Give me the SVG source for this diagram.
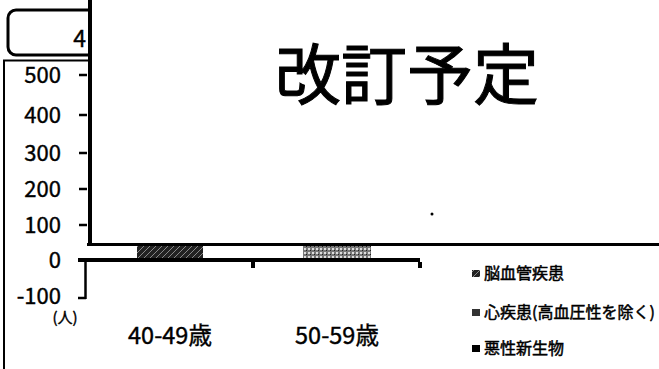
<svg xmlns="http://www.w3.org/2000/svg" width="659" height="369" viewBox="0 0 659 369">
<style>
text{font-family:"Noto Sans CJK JP","Noto Sans",sans-serif;fill:#000;stroke:#000;stroke-width:0.4}
.ax{font-size:22px;text-anchor:end}
.xl{font-size:23.5px;text-anchor:middle}
.lg{font-size:16px;stroke-width:0.5}
.ln{stroke:#000;fill:none}
</style>
<defs>
<pattern id="p1" width="6" height="6" patternUnits="userSpaceOnUse">
<rect width="6" height="6" fill="#222"/>
<path d="M0 6L6 0" stroke="#888" stroke-width="1"/>
</pattern>
<pattern id="p2" width="4" height="4" patternUnits="userSpaceOnUse">
<rect width="4" height="4" fill="#777"/>
<rect x="0" y="0" width="2" height="2" fill="#ddd"/>
<rect x="2" y="2" width="1" height="1" fill="#222"/>
</pattern>
</defs>
<rect width="659" height="369" fill="#fff"/>
<g id="frame">
<path class="ln" d="M90 55H16a8 8 0 0 1-8-8V18a8 8 0 0 1 8-8H90" stroke-width="3"/>
<path class="ln" d="M4 369V60.5H90" stroke-width="2"/>
<line class="ln" x1="90" y1="0" x2="90" y2="246" stroke-width="4"/>
<text x="86" y="47" font-size="23" text-anchor="end">4</text>
</g>
<g id="axis">
<line class="ln" x1="87" y1="244.5" x2="659" y2="244.5" stroke-width="3"/>
<line class="ln" x1="78" y1="260" x2="420" y2="260" stroke-width="4"/>
<line class="ln" x1="85.5" y1="258" x2="85.5" y2="299" stroke-width="2.5"/>
<path class="ln" stroke-width="2.5" d="M79 75H87M79 115H87M79 153H87M79 189H87M79 225H87M78 298H86"/>
<path class="ln" stroke-width="4" d="M253 262V268M420 262V268"/>
<text class="ax" x="61" y="83">500</text>
<text class="ax" x="61" y="123">400</text>
<text class="ax" x="61" y="161">300</text>
<text class="ax" x="61" y="197">200</text>
<text class="ax" x="61" y="233">100</text>
<text class="ax" x="61" y="268">0</text>
<text class="ax" x="61" y="304">-100</text>
<text x="65" y="323" font-size="15" text-anchor="middle">(人)</text>
</g>
<g id="bars">
<rect x="137" y="246" width="66" height="12" fill="url(#p1)"/>
<rect x="303" y="246" width="68" height="12" fill="url(#p2)"/>
</g>
<g id="labels">
<text class="xl" x="170" y="344">40-49歳</text>
<text class="xl" x="337" y="344">50-59歳</text>
<text x="407" y="99" font-size="66" text-anchor="middle" style="stroke-width:1">改訂予定</text>
<circle cx="432" cy="214" r="1.5" fill="#000"/>
</g>
<g id="legend">
<rect x="472" y="270" width="8" height="7" fill="url(#p1)"/>
<text class="lg" x="484" y="279">脳血管疾患</text>
<rect x="472" y="309" width="8" height="7" fill="#333"/>
<text class="lg" x="484" y="318">心疾患(高血圧性を除く)</text>
<rect x="472" y="345" width="8" height="7" fill="#000"/>
<text class="lg" x="484" y="354">悪性新生物</text>
</g>
</svg>
